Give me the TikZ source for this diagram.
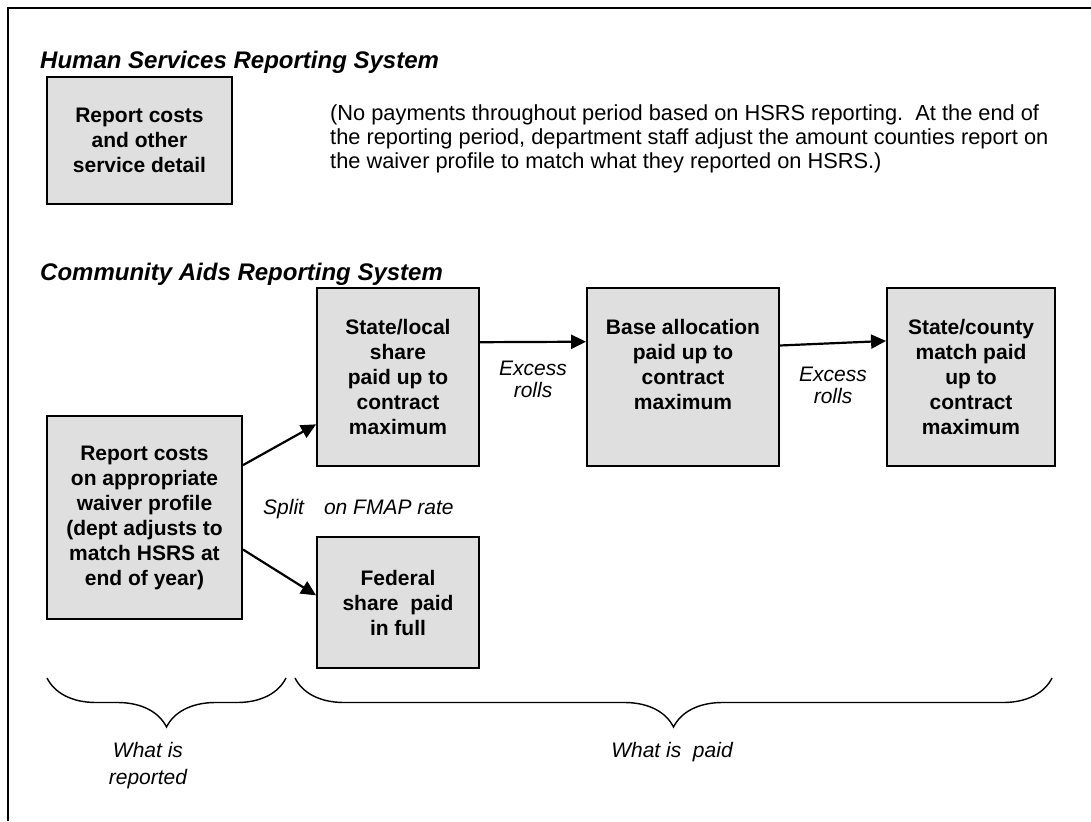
\documentclass[tikz,border=0pt]{standalone}
\usepackage{fontspec}
\setmainfont{Liberation Sans}
\usetikzlibrary{arrows.meta,decorations.pathreplacing}

\begin{document}
\begin{tikzpicture}[x=1pt,y=-1pt,
  box/.style={draw,line width=1.9pt,fill=gray!25,align=center,inner sep=0pt,
    font=\bfseries\fontsize{21}{25}\selectfont},
  note/.style={align=center,inner sep=0pt,font=\itshape\fontsize{21}{22}\selectfont},
  head/.style={anchor=base west,inner sep=0pt,font=\bfseries\itshape\fontsize{24}{28}\selectfont},
  arr/.style={line width=2.2pt,-{Triangle[length=15pt,width=14pt]}},
  brc/.style={decorate,decoration={brace,mirror,amplitude=49pt},line width=1.4pt}]

\useasboundingbox (0,0) rectangle (1091,821);
\draw[line width=2.6pt] (8,821) -- (8,8) -- (1091,8);

% Human Services Reporting System
\node[head] (t1) at (40,69) {Human Services Reporting System};
\node[box,minimum width=185pt,minimum height=127pt] (hsrs) at (139.5,140.5) {Report costs\\and other\\service detail};
\node[anchor=north west,inner sep=0pt,align=left,font=\fontsize{21.8}{24}\selectfont] (np) at (330,105)
  {(No payments throughout period based on HSRS reporting.\ \ At the end of\\
   the reporting period, department staff adjust the amount counties report on\\
   the waiver profile to match what they reported on HSRS.)};

% Community Aids Reporting System
\node[head] (t2) at (40,280) {Community Aids Reporting System};
\node[box,minimum width=162pt,minimum height=178pt] (sl) at (398,377) {State/local\\share\\paid up to\\contract\\maximum};
\node[box,minimum width=192pt,minimum height=178pt] (base) at (683,377) {Base allocation\\paid up to\\contract\\maximum\\\mbox{}};
\node[box,minimum width=168pt,minimum height=178pt] (sc) at (971,377) {State/county\\match paid\\up to\\contract\\maximum};
\node[box,minimum width=195pt,minimum height=203pt] (rep) at (144.5,517.5) {Report costs\\on appropriate\\waiver profile\\(dept adjusts to\\match HSRS at\\end of year)};
\node[box,minimum width=162pt,minimum height=131pt] (fed) at (398,602.5) {Federal\\share\ \ paid\\in full};

\draw[arr] (rep.28) -- (sl.210);
\draw[arr] (rep.-18) -- (fed.175);
\draw[arr] (sl.23) -- node[note,below=18pt] {Excess\\rolls} (base.160);
\draw[arr] (base.18) -- node[note,below=23pt] {Excess\\rolls} (sc.157);
\node[note,anchor=base west] (split) at (263,514) {Split\hspace{20pt}on FMAP rate};

% braces
\coordinate (b1l) at (47,678);
\coordinate (b1r) at (286,678);
\coordinate (b2l) at (295,678);
\coordinate (b2r) at (1052,678);
\draw[brc] (b1l) -- (b1r);
\draw[brc] (b2l) -- (b2r);
\node[note,anchor=north,font=\itshape\fontsize{21}{27}\selectfont] (rptd) at (148,742) {What is\\reported};
\node[note,anchor=base] (paid) at (672,757) {What is\ \ paid};
\end{tikzpicture}
\end{document}
